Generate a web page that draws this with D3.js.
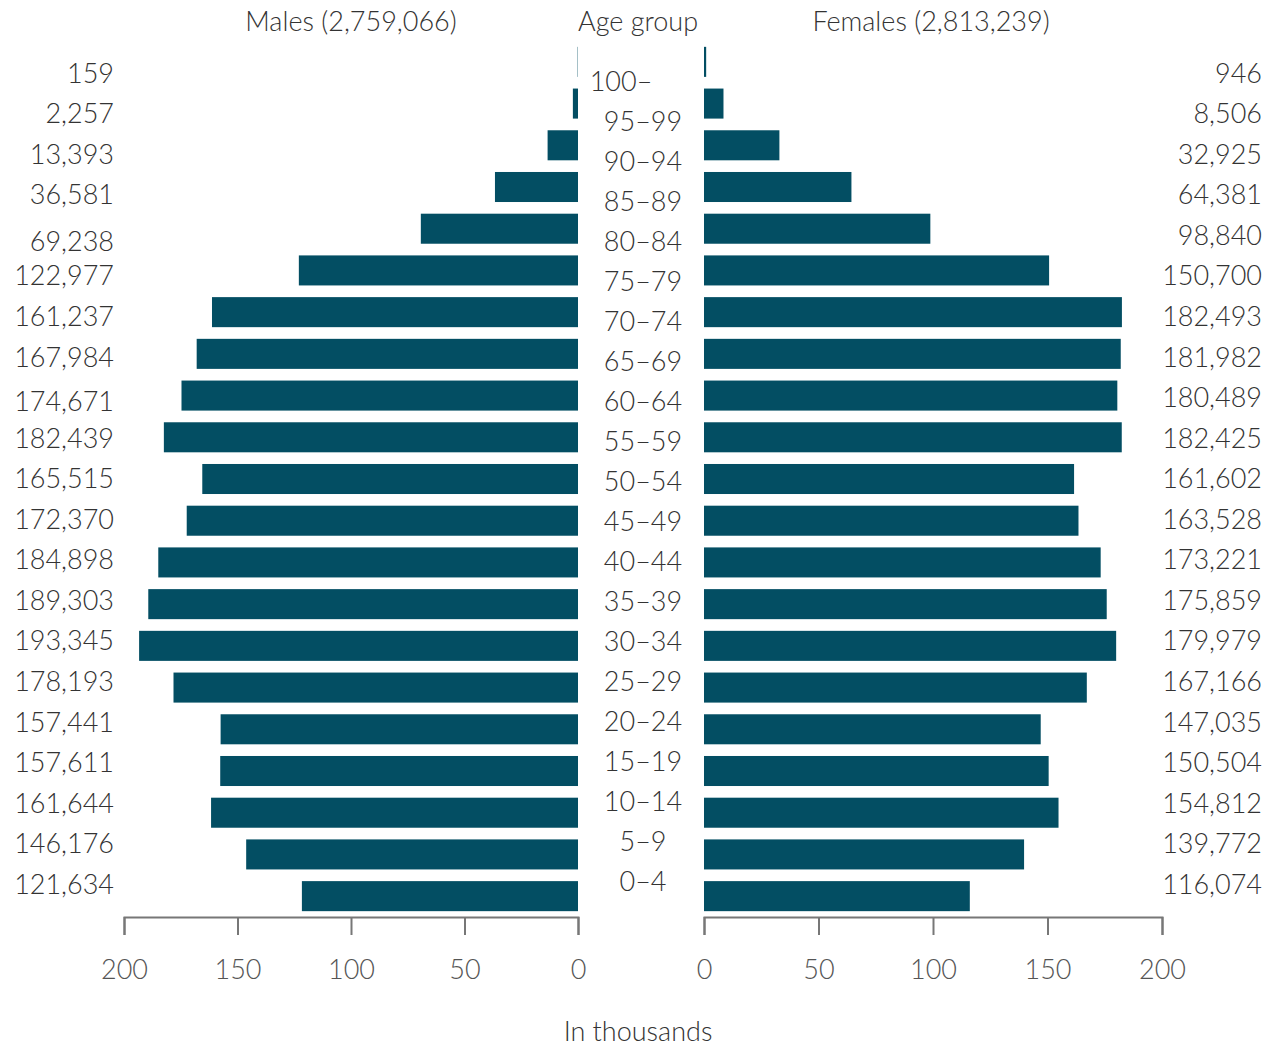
<!DOCTYPE html>
<html>
<head>
<meta charset="utf-8">
<script src="https://cdn.jsdelivr.net/npm/d3@7"></script>
<style>
  html, body { margin: 0; padding: 0; background: #fff; overflow: hidden; }
  svg text { font-family: Lato, "Noto Sans", sans-serif; font-weight: 300; }
</style>
</head>
<body>
<svg id="chart" width="1267" height="1046"></svg>
<script>
// Age groups, from oldest (top) to youngest (bottom)
const ageGroups = ["100–","95–99","90–94","85–89","80–84","75–79","70–74","65–69","60–64","55–59",
  "50–54","45–49","40–44","35–39","30–34","25–29","20–24","15–19","10–14","5–9","0–4"];
const males = [159, 2257, 13393, 36581, 69238, 122977, 161237, 167984, 174671, 182439,
  165515, 172370, 184898, 189303, 193345, 178193, 157441, 157611, 161644, 146176, 121634];
const females = [946, 8506, 32925, 64381, 98840, 150700, 182493, 181982, 180489, 182425,
  161602, 163528, 173221, 175859, 179979, 167166, 147035, 150504, 154812, 139772, 116074];
const tickValues = [0, 50, 100, 150, 200];
const maleTotal = "2,759,066";
const femaleTotal = "2,813,239";

const barColor = "#034e63";
const textColor = "#333";
const fs = 27;
const svg = d3.select("#chart");
const fmt = d3.format(",");

const xL = d3.scaleLinear().domain([0, 200]).range([578, 124]);
const xR = d3.scaleLinear().domain([0, 200]).range([704, 1162]);
const yBar = d3.scaleBand().domain(ageGroups).range([41, 917]).paddingInner(0.28).paddingOuter(0.14);
const yVal = d3.scalePoint().domain(ageGroups).range([73, 884]);
const yAge = d3.scalePoint().domain(ageGroups).range([81, 881]);
// small hand-placement nudges seen in the original layout
const maleNudge = {"80–84": 6, "60–64": 4};
const ageNudge = {"100–": -22};

// Bars
svg.append("g").selectAll("rect").data(ageGroups).join("rect")
  .attr("x", (d, i) => xL(males[i] / 1000))
  .attr("y", d => yBar(d))
  .attr("width", (d, i) => xL(0) - xL(males[i] / 1000))
  .attr("height", yBar.bandwidth())
  .attr("fill", barColor);
svg.append("g").selectAll("rect").data(ageGroups).join("rect")
  .attr("x", xR(0))
  .attr("y", d => yBar(d))
  .attr("width", (d, i) => xR(females[i] / 1000) - xR(0))
  .attr("height", yBar.bandwidth())
  .attr("fill", barColor);

// Value labels
svg.append("g").selectAll("text").data(ageGroups).join("text")
  .attr("x", 114).attr("y", d => yVal(d) + (maleNudge[d] || 0)).attr("dy", "0.36em")
  .attr("text-anchor", "end").attr("font-size", fs).attr("fill", textColor)
  .text((d, i) => fmt(males[i]));
svg.append("g").selectAll("text").data(ageGroups).join("text")
  .attr("x", 1262).attr("y", d => yVal(d)).attr("dy", "0.36em")
  .attr("text-anchor", "end").attr("font-size", fs).attr("fill", textColor)
  .text((d, i) => fmt(females[i]));

// Age group labels
svg.append("g").selectAll("text").data(ageGroups).join("text")
  .attr("x", d => 643 + (ageNudge[d] || 0)).attr("y", d => yAge(d)).attr("dy", "0.36em")
  .attr("text-anchor", "middle").attr("font-size", fs).attr("fill", textColor)
  .text(d => d);

// Axes
function styleAxis(g) {
  g.select(".domain").attr("stroke", "#777").attr("stroke-width", 2);
  g.selectAll(".tick line").attr("stroke", "#777").attr("stroke-width", 2);
  g.selectAll(".tick text").attr("font-size", fs).attr("fill", "#555")
    .attr("font-family", "Lato, sans-serif").attr("font-weight", 300);
}
svg.append("g").attr("transform", "translate(0,917)")
  .call(d3.axisBottom(xL).tickValues(tickValues).tickSizeOuter(18).tickSizeInner(18).tickPadding(25))
  .call(styleAxis);
svg.append("g").attr("transform", "translate(0,917)")
  .call(d3.axisBottom(xR).tickValues(tickValues).tickSizeOuter(18).tickSizeInner(18).tickPadding(25))
  .call(styleAxis);

// Titles
svg.append("text").attr("x", 351).attr("y", 21).attr("dy", "0.36em").attr("text-anchor", "middle")
  .attr("font-size", fs).attr("fill", textColor).text(`Males (${maleTotal})`);
svg.append("text").attr("x", 638).attr("y", 21).attr("dy", "0.36em").attr("text-anchor", "middle")
  .attr("font-size", fs).attr("fill", textColor).text("Age group");
svg.append("text").attr("x", 931).attr("y", 21).attr("dy", "0.36em").attr("text-anchor", "middle")
  .attr("font-size", fs).attr("fill", textColor).text(`Females (${femaleTotal})`);
svg.append("text").attr("x", 638).attr("y", 1031).attr("dy", "0.36em").attr("text-anchor", "middle")
  .attr("font-size", fs).attr("fill", textColor).text("In thousands");
</script>
</body>
</html>
